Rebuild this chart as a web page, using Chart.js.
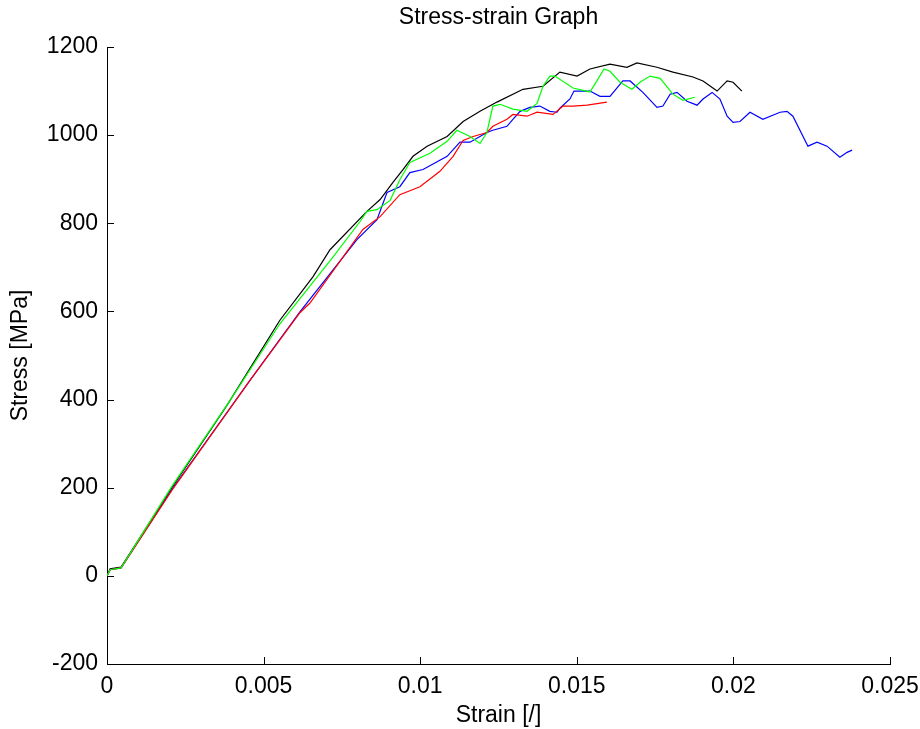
<!DOCTYPE html>
<html>
<head>
<meta charset="utf-8">
<script src="https://cdn.jsdelivr.net/npm/chart.js@4"></script>
<style>
  html, body { margin: 0; padding: 0; background: #fff; }
</style>
</head>
<body>
<canvas id="grafico" width="920" height="729"></canvas>
<script>
// ticks
const xTicks = [0, 0.005, 0.01, 0.015, 0.02, 0.025];
const yTicks = [-200, 0, 200, 400, 600, 800, 1000, 1200];

// black curve
const strainNegro = [0, 0.0001, 0.00045, 0.00207, 0.00383, 0.00552, 0.00658, 0.00712, 0.0083, 0.00872, 0.00913, 0.00945, 0.00977, 0.01022, 0.01086, 0.01137, 0.01191, 0.01245, 0.01328, 0.01392, 0.01446, 0.01501, 0.01542, 0.01606, 0.0166, 0.01692, 0.01756, 0.01807, 0.01871, 0.01903, 0.01948, 0.0198, 0.01999, 0.02027];
const stressNegro = [0, 16, 20, 200, 387, 580, 679, 740, 827, 854, 893, 922, 952, 975, 997, 1031, 1054, 1075, 1104, 1111, 1143, 1134, 1150, 1161, 1154, 1164, 1154, 1143, 1132, 1123, 1100, 1123, 1120, 1100];

// green curve
const strainVerde = [0, 0.0001, 0.00045, 0.00207, 0.00393, 0.00552, 0.00722, 0.00808, 0.0083, 0.00862, 0.00904, 0.00935, 0.00967, 0.01031, 0.01086, 0.01117, 0.01159, 0.01191, 0.01213, 0.01232, 0.01255, 0.01296, 0.01341, 0.01373, 0.01392, 0.01414, 0.0143, 0.01488, 0.01542, 0.01564, 0.01587, 0.01606, 0.01638, 0.01676, 0.01702, 0.01734, 0.01766, 0.01807, 0.01839, 0.01877];
const stressVerde = [0, 14, 18, 203, 398, 572, 724, 804, 827, 831, 852, 899, 938, 959, 986, 1011, 997, 981, 1006, 1066, 1070, 1059, 1054, 1072, 1111, 1134, 1134, 1107, 1098, 1123, 1150, 1145, 1120, 1104, 1120, 1134, 1129, 1093, 1079, 1086];

// red curve
const strainRojo = [0, 0.0001, 0.00045, 0.00207, 0.00457, 0.00616, 0.00648, 0.00817, 0.00872, 0.00935, 0.00999, 0.01063, 0.01105, 0.01137, 0.01169, 0.01213, 0.01232, 0.01277, 0.01296, 0.01341, 0.01373, 0.01424, 0.01456, 0.01488, 0.01533, 0.01596];
const stressRojo = [0, 14, 18, 194, 444, 597, 619, 786, 815, 865, 883, 918, 952, 988, 997, 1006, 1020, 1036, 1047, 1043, 1052, 1047, 1066, 1066, 1068, 1075];

// blue curve
const strainAzul = [0, 0.0001, 0.00045, 0.00207, 0.00457, 0.00616, 0.00798, 0.00862, 0.00894, 0.00935, 0.00967, 0.01009, 0.01086, 0.01127, 0.01159, 0.01213, 0.01232, 0.01277, 0.01296, 0.01319, 0.0135, 0.01382, 0.01414, 0.01437, 0.01446, 0.01478, 0.01491, 0.01542, 0.01574, 0.01606, 0.01647, 0.0167, 0.01711, 0.01756, 0.01775, 0.01798, 0.0182, 0.01852, 0.01884, 0.01903, 0.01932, 0.01957, 0.0198, 0.01999, 0.02021, 0.02053, 0.02094, 0.02149, 0.02171, 0.0219, 0.02238, 0.02267, 0.02299, 0.0234, 0.02363, 0.02379];
const stressAzul = [0, 14, 18, 196, 444, 599, 763, 808, 870, 883, 915, 922, 952, 984, 984, 1006, 1011, 1020, 1036, 1054, 1063, 1066, 1054, 1052, 1061, 1082, 1100, 1100, 1088, 1088, 1123, 1123, 1097, 1063, 1066, 1093, 1097, 1077, 1068, 1082, 1097, 1082, 1043, 1029, 1031, 1052, 1036, 1052, 1054, 1043, 975, 984, 975, 950, 961, 966];

const fuente = "'Liberation Sans', Arial, sans-serif";

function puntos(xs, ys) {
  return xs.map((x, i) => ({ x: x, y: ys[i] }));
}

function serie(xs, ys, color) {
  return {
    data: puntos(xs, ys),
    borderColor: color,
    backgroundColor: color,
    borderWidth: 1.2,
    pointRadius: 0,
    showLine: true,
    tension: 0
  };
}

// MATLAB style ticks pointing into the plot
const marcasInternas = {
  id: "marcasInternas",
  afterDraw(chart) {
    const { ctx, scales: { x, y } } = chart;
    ctx.save();
    ctx.strokeStyle = "#000";
    ctx.lineWidth = 1;
    ctx.beginPath();
    x.ticks.forEach((t, i) => {
      const px = Math.round(x.getPixelForTick(i)) + 0.5;
      ctx.moveTo(px, x.top);
      ctx.lineTo(px, x.top - 7);
    });
    y.ticks.forEach((t, i) => {
      const py = Math.round(y.getPixelForTick(i)) + 0.5;
      ctx.moveTo(y.right, py);
      ctx.lineTo(y.right + 7, py);
    });
    ctx.stroke();
    ctx.restore();
  }
};

new Chart(document.getElementById("grafico"), {
  type: "scatter",
  data: {
    datasets: [
      serie(strainVerde, stressVerde, "#00ff00"),
      serie(strainRojo, stressRojo, "#ff0000"),
      serie(strainAzul, stressAzul, "#0000ff"),
      serie(strainNegro, stressNegro, "#000000")
    ]
  },
  options: {
    responsive: false,
    animation: false,
    layout: { padding: { left: 0, right: 30, top: 0, bottom: 0 } },
    plugins: {
      legend: { display: false },
      tooltip: { enabled: false },
      title: {
        display: true,
        fullSize: false,
        text: "Stress-strain Graph",
        color: "#000",
        font: { family: fuente, size: 23, weight: "normal" },
        padding: { top: 4, bottom: 15.4 }
      }
    },
    scales: {
      x: {
        type: "linear",
        min: 0,
        max: 0.025,
        afterFit: s => { s.height = 65; s.paddingRight = 0; s.paddingLeft = 0; },
        afterBuildTicks: s => { s.ticks = xTicks.map(v => ({ value: v })); },
        grid: { display: false, drawTicks: false },
        border: { display: true, color: "#000", width: 1 },
        ticks: {
          color: "#000",
          padding: 9,
          maxRotation: 0,
          font: { family: fuente, size: 23 },
          callback: v => String(v)
        },
        title: {
          display: true,
          text: "Strain [/]",
          color: "#000",
          font: { family: fuente, size: 23 },
          padding: { top: 1, bottom: 0 }
        }
      },
      y: {
        type: "linear",
        min: -200,
        max: 1200,
        afterFit: s => { s.width = 107; },
        afterBuildTicks: s => { s.ticks = yTicks.map(v => ({ value: v })); },
        grid: { display: false, drawTicks: false },
        border: { display: true, color: "#000", width: 1 },
        ticks: {
          color: "#000",
          padding: 9,
          font: { family: fuente, size: 23 },
          callback: v => String(v)
        },
        title: {
          display: true,
          text: "Stress [MPa]",
          color: "#000",
          font: { family: fuente, size: 23 },
          padding: { top: 7, bottom: 0 }
        }
      }
    }
  },
  plugins: [marcasInternas]
});
</script>
</body>
</html>
